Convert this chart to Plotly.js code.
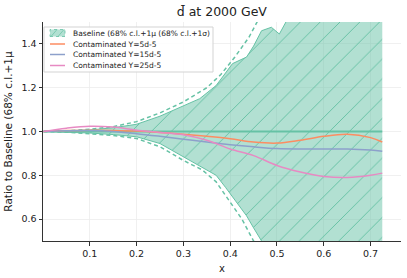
<!DOCTYPE html>
<html>
<head>
<meta charset="utf-8">
<script src="https://cdn.plot.ly/plotly-3.0.1.min.js"></script>
<style>html,body{margin:0;padding:0;background:#fff;}#chart{width:407px;height:278px;}</style>
</head>
<body>
<div id="chart"></div>
<script>
// ---- data ----
const bandX     = [0.001, 0.05, 0.1, 0.15, 0.2, 0.25, 0.3, 0.335, 0.37, 0.39, 0.405, 0.435, 0.45, 0.467, 0.488, 0.505, 0.525, 0.55, 0.6, 0.65, 0.7, 0.725];
const bandUpper = [1.0, 1.002, 1.007, 1.017, 1.033, 1.07, 1.115, 1.15, 1.21, 1.27, 1.31, 1.34, 1.39, 1.46, 1.476, 1.445, 1.52, 1.6, 1.8, 2.0, 2.2, 2.3];
const bandLower = [1.0, 0.998, 0.993, 0.986, 0.976, 0.945, 0.885, 0.845, 0.8, 0.745, 0.7, 0.615, 0.56, 0.5, 0.44, 0.4, 0.36, 0.3, 0.22, 0.15, 0.1, 0.08];

const dashUX = [0.001, 0.05, 0.1, 0.15, 0.2, 0.25, 0.3, 0.35, 0.38, 0.41, 0.44, 0.46, 0.5, 0.55, 0.6, 0.65, 0.7, 0.725];
const dashU  = [1.0, 1.003, 1.01, 1.022, 1.045, 1.085, 1.135, 1.2, 1.26, 1.34, 1.43, 1.51, 1.65, 1.85, 2.0, 2.2, 2.4, 2.5];
const dashLX = [0.001, 0.05, 0.1, 0.15, 0.2, 0.25, 0.3, 0.34, 0.37, 0.4, 0.425, 0.45, 0.5, 0.55, 0.6, 0.65, 0.7, 0.725];
const dashL  = [1.0, 0.997, 0.99, 0.982, 0.968, 0.93, 0.868, 0.825, 0.77, 0.68, 0.6, 0.5, 0.38, 0.3, 0.2, 0.14, 0.1, 0.08];

const centralX = [0.001, 0.725];
const centralY = [1.0, 1.0];

const contamX = [0.001, 0.05, 0.1, 0.15, 0.2, 0.25, 0.3, 0.35, 0.4, 0.45, 0.5, 0.55, 0.6, 0.65, 0.7, 0.725];
const contam5  = [1.0, 1.004, 1.006, 1.005, 1.002, 0.996, 0.988, 0.978, 0.967, 0.952, 0.947, 0.96, 0.978, 0.987, 0.972, 0.952];
const contam15 = [1.0, 1.003, 1.004, 1.0, 0.99, 0.978, 0.965, 0.952, 0.94, 0.93, 0.922, 0.92, 0.92, 0.92, 0.915, 0.91];
const contam25 = [1.0, 1.015, 1.024, 1.02, 1.006, 0.996, 0.985, 0.96, 0.92, 0.89, 0.845, 0.815, 0.795, 0.79, 0.8, 0.81];

const legendLabels = ['Baseline (68% c.l.+1μ (68% c.l.+1σ)', 'Contaminated Y=5d-5', 'Contaminated Y=15d-5', 'Contaminated Y=25d-5'];
const titleText = 'd\u0304 at 2000 GeV';
const xTicks = [0.1, 0.2, 0.3, 0.4, 0.5, 0.6, 0.7];
const yTicks = [0.6, 0.8, 1.0, 1.2, 1.4];

// ---- styles ----
const TEAL = '#66c2a5', TEAL_BG = 'rgba(102,194,165,0.5)';
const COLS = ['#fc8d62', '#8da0cb', '#e78ac3'];
const FONT = 'DejaVu Sans, sans-serif';

const traces = [
  {x: bandX, y: bandLower, mode: 'lines', line: {color: TEAL, width: 1}, showlegend: false, hoverinfo: 'skip'},
  {x: bandX, y: bandUpper, mode: 'lines', line: {color: TEAL, width: 1}, fill: 'tonexty',
   fillcolor: TEAL_BG,
   fillpattern: {shape: '/', fgcolor: TEAL, bgcolor: TEAL_BG, size: 14, solidity: 0.07},
   showlegend: false, hoverinfo: 'skip'},
  {x: dashUX, y: dashU, mode: 'lines', line: {color: TEAL, width: 1.5, dash: '4px,3px'}, showlegend: false},
  {x: dashLX, y: dashL, mode: 'lines', line: {color: TEAL, width: 1.5, dash: '4px,3px'}, showlegend: false},
  {x: centralX, y: centralY, mode: 'lines', line: {color: TEAL, width: 2}, showlegend: false},
  {x: contamX, y: contam5, mode: 'lines', line: {color: COLS[0], width: 1.5, shape: 'spline'}, showlegend: false},
  {x: contamX, y: contam15, mode: 'lines', line: {color: COLS[1], width: 1.5, shape: 'spline'}, showlegend: false},
  {x: contamX, y: contam25, mode: 'lines', line: {color: COLS[2], width: 1.5, shape: 'spline'}, showlegend: false}
];

// plot area in pixels
const L = 43, R = 401, T = 22, B = 241;
const px = v => (v - L) / (R - L);
const py = v => (B - v) / (B - T);

const shapes = [
  {type: 'rect', xref: 'paper', yref: 'paper', x0: px(44), x1: px(213), y0: py(72), y1: py(27),
   fillcolor: 'rgba(255,255,255,0.85)', line: {color: '#d3d3d3', width: 1}, layer: 'above'},
  {type: 'rect', xref: 'paper', yref: 'paper', x0: px(50), x1: px(65), y0: py(36.5), y1: py(29.5),
   fillcolor: TEAL_BG, line: {color: TEAL, width: 0.8, dash: 'dot'}, layer: 'above'},
  {type: 'line', xref: 'paper', yref: 'paper', x0: px(51), x1: px(57), y0: py(36.5), y1: py(29.5),
   line: {color: TEAL, width: 0.7}, layer: 'above'},
  {type: 'line', xref: 'paper', yref: 'paper', x0: px(58), x1: px(64), y0: py(36.5), y1: py(29.5),
   line: {color: TEAL, width: 0.7}, layer: 'above'}
];
const rowY = [33, 44, 54.5, 65.5];
for (let i = 0; i < 3; i++) {
  shapes.push({type: 'line', xref: 'paper', yref: 'paper', x0: px(50), x1: px(65), y0: py(rowY[i + 1]), y1: py(rowY[i + 1]),
    line: {color: COLS[i], width: 1.5}, layer: 'above'});
}
const annotations = legendLabels.map((t, i) => ({
  text: t, xref: 'paper', yref: 'paper', x: px(71), y: py(rowY[i]), xanchor: 'left', yanchor: 'middle',
  showarrow: false, font: {family: FONT, size: 7.5, color: '#222'}
}));

const axisCommon = {
  showline: true, linecolor: '#333', linewidth: 1, ticks: 'outside', ticklen: 3.5, tickcolor: '#333',
  showgrid: true, gridcolor: '#ececec', gridwidth: 0.8, zeroline: false,
  tickfont: {family: FONT, size: 9.5, color: '#222'}
};

const layout = {
  width: 407, height: 278,
  margin: {l: L, r: 407 - R, t: T, b: 278 - B},
  paper_bgcolor: '#fff', plot_bgcolor: '#fff',
  title: {text: titleText, font: {family: FONT, size: 12.5, color: '#222'}, x: 0.545, xanchor: 'center', y: 1 - 12 / 278, yanchor: 'middle'},
  xaxis: Object.assign({}, axisCommon, {range: [0, 0.765], tickvals: xTicks, ticktext: xTicks.map(v => v.toFixed(1)),
    title: {text: 'x', font: {family: FONT, size: 10, color: '#222'}, standoff: 7}}),
  yaxis: Object.assign({}, axisCommon, {range: [0.5, 1.5], tickvals: yTicks, ticktext: yTicks.map(v => v.toFixed(1)),
    title: {text: 'Ratio to Baseline (68% c.l.+1μ', font: {family: FONT, size: 10.5, color: '#222'}, standoff: 6}}),
  shapes: shapes, annotations: annotations, showlegend: false
};

Plotly.newPlot('chart', traces, layout, {staticPlot: true, displayModeBar: false});
</script>
</body>
</html>
